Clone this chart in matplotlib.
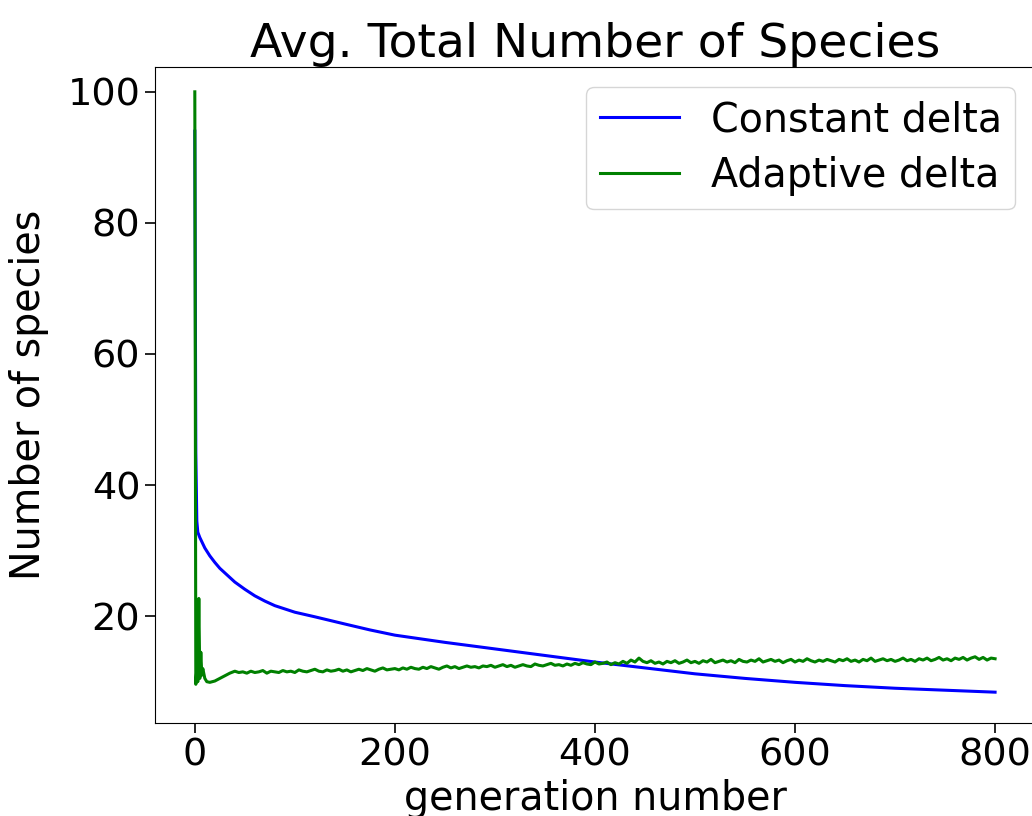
import numpy as np
import matplotlib
matplotlib.use("Agg")
import matplotlib.pyplot as plt

# Constant delta (blue)
gen_const = [0, 1, 2, 3, 5, 10, 15, 20, 25, 30, 40, 50, 60, 70, 80, 100, 120,
             150, 175, 200, 250, 300, 350, 400, 450, 500, 550, 600, 650, 700,
             750, 800]
species_const = [94, 45, 34.5, 32.8, 32.0, 30.4, 29.2, 28.2, 27.3, 26.6, 25.2,
                 24.1, 23.1, 22.3, 21.6, 20.6, 19.9, 18.8, 17.9, 17.1, 16.0,
                 15.0, 14.0, 13.0, 12.1, 11.2, 10.5, 9.9, 9.4, 9.0, 8.7, 8.4]

# Adaptive delta (green): first generations, then every 4 generations from 48
gen_adapt_early = [0, 1, 2, 3, 4, 5, 6, 7, 8, 10, 12, 15, 20, 25, 30, 35, 40, 44]
species_adapt_early = [100, 9.6, 12.0, 10.0, 22.7, 10.5, 14.5, 11.0, 12.0, 10.5,
                       10.0, 9.9, 10.1, 10.5, 10.9, 11.3, 11.6, 11.4]
species_adapt_late = [
    11.5, 11.3, 11.6, 11.4, 11.5, 11.7, 11.3, 11.6, 11.5, 11.4,
    11.7, 11.5, 11.6, 11.4, 11.8, 11.6, 11.5, 11.7, 11.9, 11.6,
    11.5, 11.8, 11.6, 11.7, 11.9, 11.6, 11.8, 11.5, 11.7, 11.9,
    11.7, 12.0, 11.8, 11.6, 11.9, 12.1, 11.8, 11.9, 12.0, 11.8,
    12.1, 11.9, 12.2, 12.0, 11.9, 12.2, 12.0, 12.3, 12.1, 11.9,
    12.2, 12.4, 12.1, 12.3, 12.0, 12.2, 12.4, 12.2, 12.3, 12.1,
    12.4, 12.3, 12.5, 12.2, 12.4, 12.6, 12.3, 12.5, 12.2, 12.4,
    12.6, 12.4, 12.3, 12.7, 12.5, 12.4, 12.6, 12.8, 12.5, 12.6,
    12.4, 12.7, 12.5, 12.8, 12.6, 12.9, 12.7, 12.6, 13.0, 12.7,
    12.8, 13.0, 12.6, 12.9, 12.7, 13.1, 12.8, 13.3, 13.0, 13.6,
    13.1, 12.9, 13.2, 12.8, 13.0, 12.7, 13.1, 12.9, 13.2, 12.8,
    13.0, 13.3, 12.9, 13.1, 12.8, 13.2, 13.0, 13.4, 12.9, 13.1,
    13.3, 13.0, 13.2, 12.9, 13.4, 13.1, 13.0, 13.3, 13.1, 13.5,
    13.0, 13.2, 13.4, 13.1, 13.3, 12.9, 13.2, 13.4, 13.0, 13.3,
    13.1, 13.5, 13.2, 13.0, 13.3, 13.1, 13.4, 13.2, 13.0, 13.4,
    13.2, 13.5, 13.1, 13.3, 13.0, 13.4, 13.2, 13.6, 13.1, 13.3,
    13.5, 13.2, 13.4, 13.1, 13.3, 13.6, 13.2, 13.4, 13.1, 13.5,
    13.3, 13.6, 13.2, 13.4, 13.7, 13.3, 13.5, 13.2, 13.6, 13.4,
    13.7, 13.3, 13.6, 13.8, 13.4, 13.7, 13.3, 13.6, 13.5,
]
gen_adapt_late = list(range(48, 801, 4))

gen_adapt = gen_adapt_early + gen_adapt_late
species_adapt = species_adapt_early + species_adapt_late

fig = plt.figure(figsize=(10.32, 8.16), dpi=100)
ax = fig.add_axes([0.150, 0.114, 0.853, 0.804])

ax.plot(gen_const, species_const, color="blue", linewidth=2.2, label="Constant delta")
ax.plot(gen_adapt, species_adapt, color="green", linewidth=2.2, label="Adaptive delta")

ax.set_xlim(-40, 840)
ax.set_ylim(3.7, 103.8)
ax.set_xticks([0, 200, 400, 600, 800])
ax.set_yticks([20, 40, 60, 80, 100])
ax.tick_params(labelsize=27.5, length=7, width=1.2)

ax.set_title("Avg. Total Number of Species", fontsize=34)
ax.set_xlabel("generation number", fontsize=28.5)
ax.set_ylabel("Number of species", fontsize=28.5)
ax.xaxis.set_label_coords(0.5, -0.086)
ax.yaxis.set_label_coords(-0.120, 0.5)
ax.legend(fontsize=28.5, loc="upper right", labelspacing=0.4, borderpad=0.34)

plt.savefig("out.png", dpi=100)
